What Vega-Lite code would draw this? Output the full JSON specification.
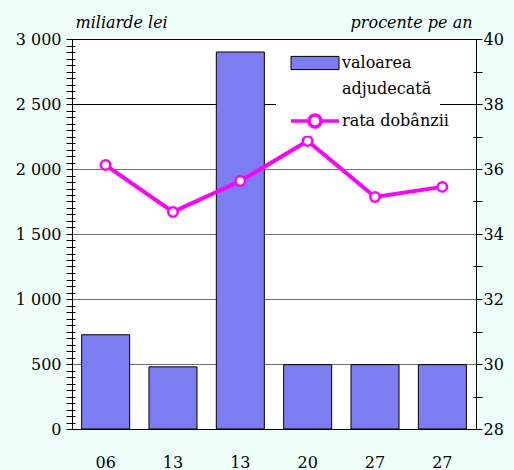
{
  "$schema": "https://vega.github.io/schema/vega-lite/v6.json",
  "width": 404,
  "height": 390,
  "autosize": {"type": "none"},
  "padding": {"left": 72, "top": 39, "right": 38, "bottom": 41},
  "background": "#eefffa",
  "config": {
    "font": "DejaVu Serif",
    "view": {"fill": "white", "stroke": "black", "strokeWidth": 1},
    "style": {"guide-label": {"lineHeight": 26}},
    "axis": {"labelFont": "DejaVu Serif", "titleFont": "DejaVu Serif"},
    "legend": {"labelFont": "DejaVu Serif"}
  },
  "data": {
    "values": [
      {"zi": "06a", "valoare": 725, "rata": 36.12},
      {"zi": "13a", "valoare": 478, "rata": 34.68},
      {"zi": "13b", "valoare": 2900, "rata": 35.63},
      {"zi": "20a", "valoare": 495, "rata": 36.86},
      {"zi": "27a", "valoare": 495, "rata": 35.14},
      {"zi": "27b", "valoare": 495, "rata": 35.45}
    ]
  },
  "encoding": {
    "x": {
      "field": "zi",
      "type": "nominal",
      "sort": null,
      "scale": {"paddingInner": 0.287, "paddingOuter": 0.143},
      "axis": {
        "title": null,
        "labelExpr": "substring(datum.label, 0, 2)",
        "labelAngle": 0,
        "labelFontSize": 16,
        "labelColor": "black",
        "labelPadding": 25,
        "ticks": false,
        "domainColor": "black",
        "grid": false
      }
    }
  },
  "layer": [
    {
      "mark": {"type": "bar", "stroke": "black", "strokeWidth": 1},
      "encoding": {
        "y": {
          "field": "valoare",
          "type": "quantitative",
          "scale": {"domain": [0, 3000], "nice": false},
          "axis": {
            "orient": "left",
            "title": "miliarde lei",
            "titleAngle": 0,
            "titleAlign": "left",
            "titleBaseline": "alphabetic",
            "titleX": 3,
            "titleY": -12,
            "titleFontStyle": "italic",
            "titleFontWeight": "normal",
            "titleFontSize": 16,
            "titleColor": "black",
            "tickCount": 100,
            "values": [0,50,100,150,200,250,300,350,400,450,500,550,600,650,700,750,800,850,900,950,1000,1050,1100,1150,1200,1250,1300,1350,1400,1450,1500,1550,1600,1650,1700,1750,1800,1850,1900,1950,2000,2050,2100,2150,2200,2250,2300,2350,2400,2450,2500,2550,2600,2650,2700,2750,2800,2850,2900,2950,3000],
            "labelExpr": "replace(format(datum.value, ','), ',', ' ')",
            "labelOpacity": {"condition": {"test": "datum.value % 500 !== 0", "value": 0}, "value": 1},
            "labelFontSize": 16,
            "labelColor": "black",
            "labelPadding": 5,
            "labelOverlap": false,
            "tickColor": "black",
            "tickSize": 6,
            "domainColor": "black",
            "grid": true,
            "gridColor": {"condition": {"test": "datum.value % 500 !== 0 || datum.value === 2500", "value": "#000000"}, "value": "#707070"},
            "gridDash": {"condition": {"test": "datum.value % 500 !== 0", "value": [3, 1000]}, "value": []},
            "gridOpacity": {"condition": {"test": "datum.value === 0 || datum.value === 3000", "value": 0}, "value": 1}
          }
        },
        "fill": {
          "datum": "valoarea adjudecată",
          "type": "nominal",
          "scale": {"range": ["#7d7df2"]},
          "legend": {
            "title": null,
            "orient": "none",
            "legendX": 204,
            "legendY": 8,
            "padding": 8,
            "fillColor": "white",
            "symbolType": "M-4,-1.1 H4 V1.1 H-4 Z",
            "symbolSize": 144,
            "symbolOffset": 23,
            "symbolStrokeColor": "black",
            "symbolStrokeWidth": 1,
            "symbolFillColor": "#7d7df2",
            "labelOffset": 19,
            "labelFontSize": 16,
            "labelColor": "black",
            "labelLimit": 300,
            "labelExpr": "split(datum.label, ' ')"
          }
        }
      }
    },
    {
      "encoding": {
        "y": {
          "field": "rata",
          "type": "quantitative",
          "scale": {"domain": [28, 40], "nice": false, "zero": false},
          "axis": {
            "orient": "right",
            "title": "procente pe an",
            "titleAngle": 0,
            "titleAlign": "right",
            "titleBaseline": "alphabetic",
            "titleX": -4,
            "titleY": -12,
            "titleFontStyle": "italic",
            "titleFontWeight": "normal",
            "titleFontSize": 16,
            "titleColor": "black",
            "tickCount": 100,
            "values": [28,29,30,31,32,33,34,35,36,37,38,39,40],
            "labelExpr": "format(datum.value, 'd')",
            "labelOpacity": {"condition": {"test": "datum.value % 2 !== 0", "value": 0}, "value": 1},
            "labelFontSize": 16,
            "labelColor": "black",
            "labelPadding": 1,
            "labelOverlap": false,
            "tickColor": "black",
            "tickSize": 6,
            "domainColor": "black",
            "grid": true,
            "gridColor": "#000000",
            "gridDash": [3, 1000],
            "gridOpacity": {"condition": {"test": "datum.value % 2 !== 0", "value": 1}, "value": 0}
          }
        },
        "stroke": {
          "datum": "rata dobânzii",
          "type": "nominal",
          "scale": {"range": ["#ff00ff"]},
          "legend": {
            "title": null,
            "orient": "none",
            "legendX": 204,
            "legendY": 72,
            "padding": 2,
            "fillColor": "white",
            "symbolType": "M-4,0 H-1 M1,0 H4 M-1,0 A1,1 0 1,1 1,0 A1,1 0 1,1 -1,0",
            "symbolSize": 144,
            "symbolOffset": 29,
            "symbolStrokeColor": "#ff00ff",
            "symbolStrokeWidth": 3.5,
            "symbolFillColor": "white",
            "labelOffset": 19,
            "labelFontSize": 16,
            "labelColor": "black",
            "labelLimit": 300
          }
        }
      },
      "layer": [
        {"mark": {"type": "line", "strokeWidth": 4}},
        {"mark": {"type": "point", "filled": true, "fill": "white", "strokeWidth": 2.5, "size": 90, "opacity": 1}}
      ]
    }
  ],
  "resolve": {"scale": {"y": "independent"}}
}
